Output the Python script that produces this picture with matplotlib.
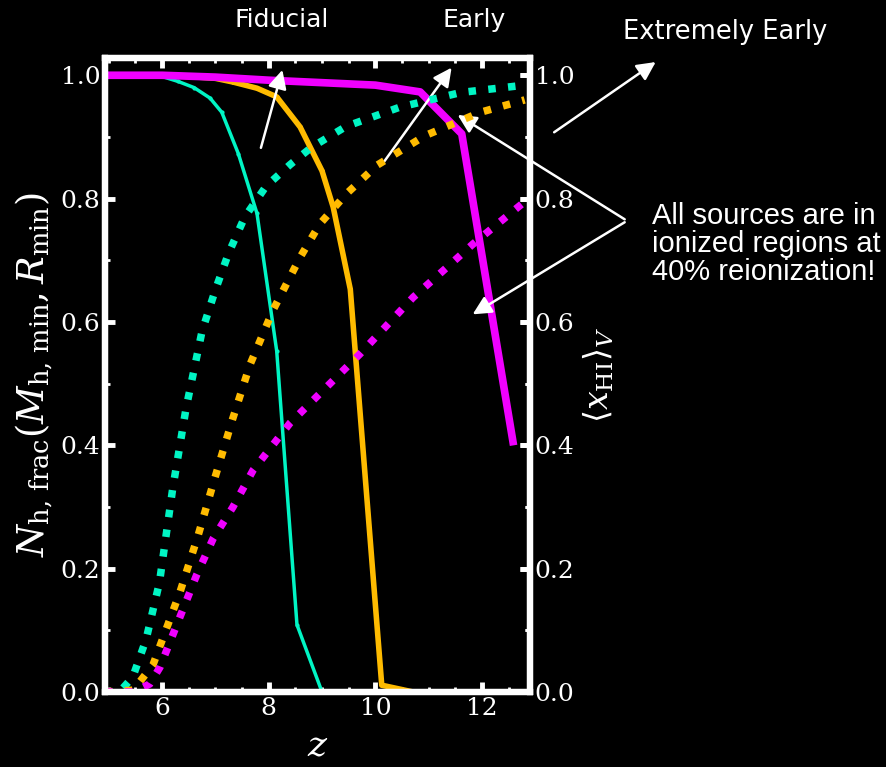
import matplotlib
matplotlib.use("Agg")
import matplotlib.pyplot as plt
from matplotlib.ticker import MultipleLocator

# Fracción de halos en regiones ionizadas (líneas sólidas)
z_fid_N = [4.93, 6.0, 6.3, 6.6, 6.9, 7.12, 7.43, 7.78, 8.15, 8.53, 9.0]
fid_N = [1.0, 0.998, 0.99, 0.98, 0.963, 0.94, 0.873, 0.776, 0.553, 0.109, 0.0]

z_early_N = [4.93, 6.0, 6.5, 7.0, 7.33, 7.78, 8.15, 8.59, 9.0, 9.21, 9.53, 10.12, 10.71]
early_N = [1.0, 1.0, 0.998, 0.995, 0.989, 0.979, 0.965, 0.916, 0.845, 0.786, 0.653, 0.011, 0.0]

z_xearly_N = [4.93, 6.0, 7.0, 8.0, 9.0, 10.0, 10.84, 11.62, 12.58]
xearly_N = [1.0, 1.0, 0.997, 0.992, 0.988, 0.984, 0.973, 0.905, 0.406]

# Fracción neutra <x_HI>_V (líneas punteadas)
z_fid_x = [4.93, 5.2, 5.45, 5.7, 5.95, 6.2, 6.45, 6.75, 7.0, 7.25, 7.55, 7.95, 8.4, 8.8, 9.45, 10.45, 11.6, 12.8]
fid_x = [0.0, 0.0, 0.024, 0.085, 0.177, 0.33, 0.46, 0.585, 0.652, 0.712, 0.77, 0.82, 0.855, 0.883, 0.917, 0.948, 0.972, 0.984]

z_early_x = [4.93, 5.46, 5.83, 6.34, 6.68, 6.99, 7.31, 7.65, 8.08, 8.59, 8.96, 9.46, 10.03, 10.93, 11.97, 12.8]
early_x = [0.0, 0.003, 0.044, 0.163, 0.255, 0.347, 0.439, 0.531, 0.619, 0.705, 0.759, 0.808, 0.854, 0.902, 0.94, 0.96]

z_xearly_x = [4.93, 5.46, 5.77, 5.96, 6.65, 6.96, 7.33, 7.71, 8.40, 9.71, 10.71, 11.27, 11.84, 12.8]
xearly_x = [0.0, 0.0, 0.013, 0.04, 0.19, 0.249, 0.30, 0.36, 0.436, 0.548, 0.64, 0.683, 0.727, 0.795]

c_fid = '#00f5c4'
c_early = '#ffbb00'
c_xearly = '#f000ff'

plt.rcParams['font.family'] = 'DejaVu Serif'
plt.rcParams['mathtext.fontset'] = 'dejavuserif'

fig = plt.figure(figsize=(8.86, 7.67), dpi=100, facecolor='black')
ax = fig.add_axes([0.1185, 0.0978, 0.4797, 0.8266])
ax.set_facecolor('black')
ax2 = ax.twinx()

ax.plot(z_fid_N, fid_N, color=c_fid, lw=2.5, marker='.', ms=4)
ax.plot(z_early_N, early_N, color=c_early, lw=4, marker='.', ms=5)
ax.plot(z_xearly_N, xearly_N, color=c_xearly, lw=5.5)

ax2.plot(z_fid_x, fid_x, color=c_fid, lw=5.4, ls=':')
ax2.plot(z_early_x, early_x, color=c_early, lw=5.4, ls=':')
ax2.plot(z_xearly_x, xearly_x, color=c_xearly, lw=5.4, ls=':')

for a in (ax, ax2):
    a.set_xlim(4.93, 12.9)
    a.set_ylim(0, 1.028)
    for s in a.spines.values():
        s.set_color('white')
        s.set_linewidth(4.5)
    a.yaxis.set_major_locator(MultipleLocator(0.2))
    a.yaxis.set_minor_locator(MultipleLocator(0.1))
    a.tick_params(which='both', direction='in', colors='white', labelsize=18)
    a.tick_params(which='major', length=7, width=3.5)
    a.tick_params(which='minor', length=3.5, width=2)

ax.xaxis.set_major_locator(MultipleLocator(2))
ax.xaxis.set_minor_locator(MultipleLocator(0.5))
ax.tick_params(which='both', top=True, right=True)

ax.set_xlabel(r'$z$', fontsize=26, color='white', labelpad=6)
ax.set_ylabel(r'$N_{\rm h,\,frac}(M_{\rm h,\,min},R_{\rm min})$', fontsize=26.5, color='white')
ax2.set_ylabel(r'$\langle x_{\rm HI}\rangle_V$', fontsize=24, color='white')

# Anotaciones
arrow = dict(arrowstyle='-|>', color='white', lw=1.8, mutation_scale=28)
sans = ['DejaVu Sans']
ax.annotate('', xy=(8.27, 1.013), xytext=(7.84, 0.878), arrowprops=arrow, annotation_clip=False)
ax.annotate('', xy=(11.46, 1.016), xytext=(10.09, 0.851), arrowprops=arrow, annotation_clip=False)
ax.annotate('', xy=(15.3, 1.024), xytext=(13.31, 0.905), arrowprops=arrow, annotation_clip=False)
ax.annotate('', xy=(11.5, 0.938), xytext=(14.72, 0.764), arrowprops=arrow, annotation_clip=False)
ax.annotate('', xy=(11.78, 0.61), xytext=(14.72, 0.764), arrowprops=arrow, annotation_clip=False)

ax.text(8.25, 1.089, 'Fiducial', color='white', fontsize=18, family=sans,
        ha='center', va='center', clip_on=False)
ax.text(11.85, 1.089, 'Early', color='white', fontsize=18, family=sans,
        ha='center', va='center', clip_on=False)
ax.text(16.56, 1.07, 'Extremely Early', color='white', fontsize=18.5, family=sans,
        ha='center', va='center', clip_on=False)
ax.text(15.19, 0.727, 'All sources are in\nionized regions at\n40% reionization!',
        color='white', fontsize=21, family=['Liberation Sans'], linespacing=1.0,
        ha='left', va='center', clip_on=False)

fig.savefig('out.png', dpi=100, facecolor='black')
